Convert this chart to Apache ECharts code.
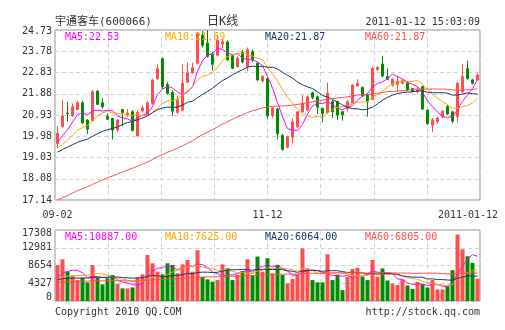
<!DOCTYPE html>
<html>
<head>
<meta charset="utf-8">
<script src="https://cdn.jsdelivr.net/npm/echarts@6/dist/echarts.min.js"></script>
<style>
html, body { margin: 0; padding: 0; background: #fff; }
#chart { width: 505px; height: 330px; }
</style>
</head>
<body>
<div id="chart"></div>
<script>
// ---- daily K-line data, 宇通客车 (600066) ----
const dates = [
  '2010-09-02','2010-09-03','2010-09-06','2010-09-07','2010-09-08','2010-09-09','2010-09-10','2010-09-13','2010-09-14','2010-09-15',
  '2010-09-16','2010-09-17','2010-09-20','2010-09-21','2010-09-27','2010-09-28','2010-09-29','2010-09-30','2010-10-11','2010-10-12',
  '2010-10-13','2010-10-14','2010-10-15','2010-10-18','2010-10-19','2010-10-20','2010-10-21','2010-10-22','2010-10-25','2010-10-26',
  '2010-10-27','2010-10-28','2010-10-29','2010-11-01','2010-11-02','2010-11-03','2010-11-04','2010-11-05','2010-11-08','2010-11-09',
  '2010-11-10','2010-11-11','2010-11-12','2010-11-15','2010-11-16','2010-11-17','2010-11-18','2010-11-19','2010-11-22','2010-11-23',
  '2010-11-24','2010-11-25','2010-11-26','2010-11-29','2010-11-30','2010-12-01','2010-12-02','2010-12-03','2010-12-06','2010-12-07',
  '2010-12-08','2010-12-09','2010-12-10','2010-12-13','2010-12-14','2010-12-15','2010-12-16','2010-12-17','2010-12-20','2010-12-21',
  '2010-12-22','2010-12-23','2010-12-24','2010-12-27','2010-12-28','2010-12-29','2010-12-30','2010-12-31','2011-01-04','2011-01-05',
  '2011-01-06','2011-01-07','2011-01-10','2011-01-11','2011-01-12'
];

const opens = [
  19.66,20.41,21.02,20.90,21.18,21.48,20.71,20.68,22.00,21.48,
  20.88,20.78,20.26,21.18,20.95,21.08,20.00,21.12,20.95,21.45,
  22.55,23.45,22.30,21.95,21.05,21.15,22.40,22.82,23.25,24.50,
  24.15,23.65,23.60,24.10,24.20,23.60,23.10,23.75,23.10,23.76,
  23.25,22.45,22.55,20.92,21.20,20.02,19.50,19.94,20.41,21.08,
  21.16,21.93,21.75,21.23,21.04,21.53,21.53,21.08,21.23,21.48,
  22.23,22.17,21.86,21.63,22.97,23.21,22.65,22.27,22.30,22.35,
  22.38,22.12,21.98,22.20,21.15,20.48,20.64,20.86,21.32,21.08,
  20.86,21.98,23.00,22.50,22.50
];
const closes = [
  20.11,20.90,20.99,21.30,21.48,20.59,20.30,21.97,21.41,21.30,
  20.75,20.26,20.71,21.05,21.02,20.25,21.05,21.25,21.48,22.50,
  23.00,22.20,21.90,21.10,21.62,22.35,22.82,23.05,24.55,24.05,
  23.55,23.20,24.28,24.20,23.40,23.02,23.47,23.30,23.85,23.39,
  22.50,22.66,20.90,21.25,20.10,19.40,19.97,20.64,21.08,21.46,
  21.75,21.72,21.28,21.00,21.90,21.08,20.93,20.95,21.53,22.27,
  22.35,21.78,21.53,23.02,23.06,22.68,22.53,22.53,22.45,22.47,
  22.05,21.98,22.06,21.20,20.55,20.72,20.80,21.10,20.98,20.66,
  22.35,22.65,22.57,22.35,22.72
];
const lows = [
  19.48,20.38,20.63,20.85,21.15,20.53,20.08,20.66,21.38,21.23,
  20.71,19.84,20.18,20.44,20.85,20.20,19.95,21.05,20.90,21.40,
  22.50,22.10,21.85,20.90,20.98,21.10,22.35,22.78,23.20,23.95,
  23.50,22.92,23.55,23.90,23.35,22.98,23.05,23.25,22.90,23.30,
  22.45,22.38,20.75,20.80,19.85,19.35,19.45,19.67,20.35,21.05,
  21.10,21.65,20.98,20.60,21.00,20.80,20.71,20.68,21.08,21.45,
  22.20,21.75,20.86,21.60,22.90,22.62,22.50,22.20,21.98,22.30,
  22.00,21.95,21.90,21.15,20.50,20.18,20.55,20.80,20.95,20.55,
  20.60,21.90,22.50,22.30,22.45
];
const highs = [
  20.43,21.60,21.53,21.45,21.57,21.57,20.75,22.05,22.05,21.68,
  21.00,20.81,20.75,21.20,21.20,21.15,21.15,21.35,21.55,22.55,
  23.20,23.50,22.40,22.05,21.80,23.20,23.28,23.27,24.60,24.68,
  24.73,23.75,24.50,24.35,24.28,23.65,23.55,23.85,23.95,23.85,
  23.30,22.70,22.60,21.30,21.25,20.10,20.00,20.79,21.10,21.83,
  21.80,21.98,21.80,21.27,22.38,21.60,21.58,21.12,21.60,22.30,
  22.53,22.20,21.90,23.08,23.12,23.57,23.02,22.57,22.70,22.55,
  22.45,22.15,22.20,22.25,21.18,20.80,20.85,21.15,21.38,21.12,
  22.40,23.21,23.36,22.55,22.80
];
const volumes = [
  8780,10170,7150,6170,5100,5680,4540,8780,5680,4050,
  5520,6330,4130,3070,3070,3310,5760,6490,11220,9190,
  7150,6490,9190,8780,6740,8940,10000,7150,12370,5840,
  5270,4700,5100,8940,7960,5100,6330,7310,10170,6250,
  10830,7150,10410,6740,8780,6330,4290,5350,6490,12810,
  7960,5100,4540,4540,11390,5100,6330,2650,5930,7790,
  8120,5930,5100,10000,5930,7930,5000,4200,3900,5230,
  3800,2950,4650,4090,3280,5100,2800,2800,3600,7515,
  16200,12600,10900,9300,5435
];

// sessions preceding 2010-09-02, needed for the moving averages at the left edge
const priorCloses = [
  14.91,15.06,14.81,15.16,15.31,15.11,15.26,15.41,15.21,15.36,
  15.51,15.31,15.56,15.66,15.46,15.71,15.81,15.61,15.76,15.91,
  15.86,16.01,15.76,16.11,15.96,16.21,16.06,16.31,16.16,16.41,
  16.55,16.80,16.90,16.70,17.00,17.20,17.50,18.00,18.40,19.00,
  18.60,18.85,19.20,19.35,18.95,19.10,19.40,19.05,19.25,19.35,
  19.05,19.30,18.92,19.28,19.45,19.35,19.70,19.52,19.82
];
const priorVolumes = [
  4200,3800,5100,4600,3500,2900,4100,5600,4800,3900,
  3300,4400,5200,6100,4700,3600,3100,4300,5000,4500,
  3800,4000,4900,3400,2800,3700,4600,5400,4100,3600,
  4400,4800,4200,3900,4700,5300,3800,4400,5000,4500,
  5300,4700,6200,4800,5600,4400,5900,4500,5100,4500,
  5200,4300,5600,4600,4800,4500,5300,4620,5300
];

const priceTicks = ['17.14','18.08','19.03','19.98','20.93','21.88','22.83','23.78','24.73'];
const volumeTicks = ['0','4327','8654','12981','17308'];
const maPeriods = [5, 10, 20, 60];
const priceMaLast = [22.53, 21.69, 21.87, 21.87];
const volumeMaLast = [10887, 7625, 6064, 6805];
const xLabelIndices = [0, 42, 84];

// ---- styling ----
const MONO = "'DejaVu Sans Mono', monospace";
const CJK = "'DejaVu Sans Mono', 'Noto Sans CJK SC', sans-serif";
const UP = '#ff4d4d';
const DOWN = '#008c00';
const MA_COLORS = ['#ff00ff', '#ffa500', '#15386a', '#ff4f4f'];
const GRID_LINE = { show: true, lineStyle: { color: '#d2d2d2', type: [4, 3], width: 1 } };
const LABEL_FONT = { fontFamily: MONO, fontSize: 10, color: '#333' };

function movingAverage(history, values, n) {
  const all = history.concat(values);
  const off = history.length;
  return values.map((_, i) => {
    let s = 0;
    for (let k = off + i - n + 1; k <= off + i; k++) s += all[k];
    return +(s / n).toFixed(4);
  });
}

const candles = opens.map((o, i) => [o, closes[i], lows[i], highs[i]]);
const volumeBars = volumes.map((v, i) => ({
  value: v,
  itemStyle: { color: closes[i] >= opens[i] ? UP : DOWN }
}));

const priceMa = maPeriods.map(n => movingAverage(priorCloses, closes, n));
const volumeMa = maPeriods.map(n => movingAverage(priorVolumes, volumes, n));

const categoryData = dates.map((d, i) =>
  i === dates.length - 1 ? { value: d, textStyle: { padding: [0, 19, 0, 0] } } : d);

function maLine(data, color, gridIdx) {
  return {
    type: 'line', data, xAxisIndex: gridIdx * 2, yAxisIndex: gridIdx,
    showSymbol: false, symbol: 'none', smooth: false, silent: true,
    lineStyle: { color, width: 1 }, z: 3
  };
}

const graphics = [];
function addText(x, y, text, color, font, align) {
  graphics.push({
    type: 'text', x, y, silent: true, z: 100,
    style: { text, fill: color, font, align: align || 'left', textAlign: align || 'left',
             verticalAlign: 'middle', textVerticalAlign: 'middle' }
  });
}
addText(55, 22, '宇通客车(600066)', '#333', '11px ' + CJK);
addText(207, 22, '日K线', '#333', '12px ' + CJK);
addText(480, 22, '2011-01-12 15:03:09', '#333', '10px ' + MONO, 'right');
maPeriods.forEach((n, k) => {
  addText(65 + k * 100, 37, 'MA' + n + ':' + priceMaLast[k].toFixed(2), MA_COLORS[k], '10px ' + MONO);
  addText(65 + k * 100, 237, 'MA' + n + ':' + volumeMaLast[k].toFixed(2), MA_COLORS[k], '10px ' + MONO);
});
addText(55, 312, 'Copyright 2010 QQ.COM', '#333', '10px ' + MONO);
addText(480, 312, 'http://stock.qq.com', '#333', '10px ' + MONO, 'right');

const chart = echarts.init(document.getElementById('chart'), null, { renderer: 'canvas' });
chart.setOption({
  animation: false,
  backgroundColor: '#fff',
  grid: [
    { left: 55, top: 30, width: 425, height: 170, show: true, borderColor: '#8c8c8c', borderWidth: 1, backgroundColor: 'transparent' },
    { left: 55, top: 230, width: 425, height: 71, show: true, borderColor: '#8c8c8c', borderWidth: 1, backgroundColor: 'transparent' }
  ],
  xAxis: [
    {
      type: 'category', gridIndex: 0, data: categoryData, boundaryGap: true,
      axisLine: { show: false }, axisTick: { show: false }, splitLine: { show: false },
      axisLabel: Object.assign({
        interval: (idx) => xLabelIndices.includes(idx),
        formatter: (v, idx) => idx === dates.length - 1 ? v : v.slice(5),
        margin: 10, hideOverlap: false
      }, LABEL_FONT)
    },
    {
      type: 'value', gridIndex: 0, min: 0, max: 8, interval: 1,
      axisLine: { show: false }, axisTick: { show: false }, axisLabel: { show: false },
      splitLine: GRID_LINE
    },
    {
      type: 'category', gridIndex: 1, data: dates, boundaryGap: true,
      axisLine: { show: false }, axisTick: { show: false }, axisLabel: { show: false }, splitLine: { show: false }
    },
    {
      type: 'value', gridIndex: 1, min: 0, max: 8, interval: 1,
      axisLine: { show: false }, axisTick: { show: false }, axisLabel: { show: false },
      splitLine: GRID_LINE
    }
  ],
  yAxis: [
    {
      type: 'value', gridIndex: 0, min: 17.14, max: 24.73, interval: (24.73 - 17.14) / 8,
      axisLine: { show: false }, axisTick: { show: false },
      axisLabel: Object.assign({
        formatter: (v, idx) => idx === priceTicks.length - 1 ? '{t|' + priceTicks[idx] + '}' : priceTicks[idx],
        margin: 3,
        rich: { t: Object.assign({ padding: [3, 0, 0, 0] }, LABEL_FONT) }
      }, LABEL_FONT),
      splitLine: GRID_LINE
    },
    {
      type: 'value', gridIndex: 1, min: 0, max: 17308, interval: 4327,
      axisLine: { show: false }, axisTick: { show: false },
      axisLabel: Object.assign({
        formatter: (v, idx) => idx === volumeTicks.length - 1 ? '{t|' + volumeTicks[idx] + '}'
          : idx === 0 ? '{b|' + volumeTicks[idx] + '}' : volumeTicks[idx],
        margin: 3,
        rich: {
          t: Object.assign({ padding: [6, 0, 0, 0] }, LABEL_FONT),
          b: Object.assign({ padding: [0, 0, 8, 0] }, LABEL_FONT)
        }
      }, LABEL_FONT),
      splitLine: GRID_LINE
    }
  ],
  series: [
    {
      type: 'candlestick', xAxisIndex: 0, yAxisIndex: 0, data: candles, barWidth: 3,
      itemStyle: { color: UP, color0: DOWN, borderColor: UP, borderColor0: DOWN, borderWidth: 1 },
      z: 2
    },
    ...priceMa.map((d, k) => maLine(d, MA_COLORS[k], 0)),
    {
      type: 'bar', xAxisIndex: 2, yAxisIndex: 1, data: volumeBars, barWidth: 4, z: 2
    },
    ...volumeMa.map((d, k) => maLine(d, MA_COLORS[k], 1))
  ],
  graphic: graphics
});
</script>
</body>
</html>
